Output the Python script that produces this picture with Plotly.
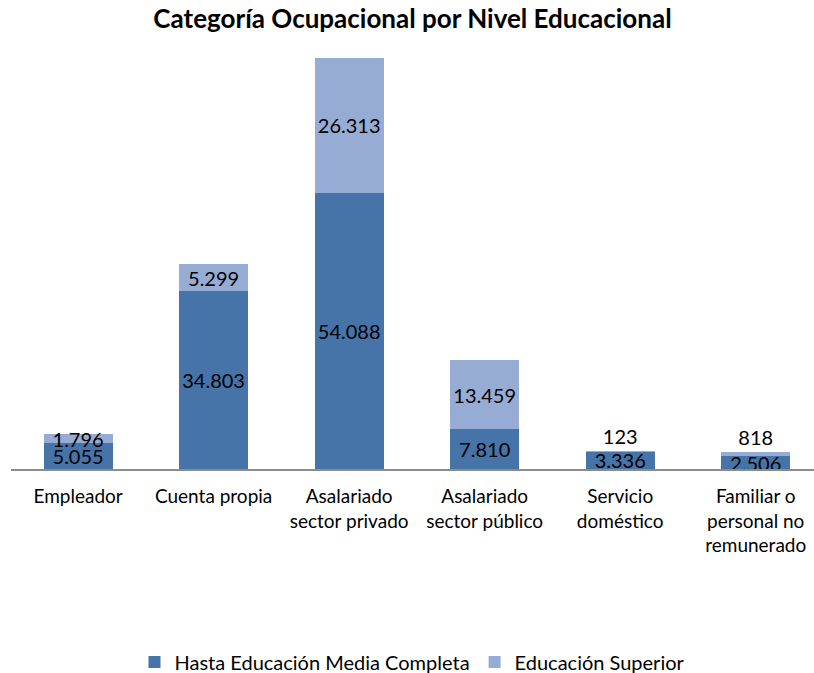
import plotly.graph_objects as go

categories = ["Empleador", "Cuenta propia", "Asalariado<br>sector privado",
              "Asalariado<br>sector público", "Servicio<br>doméstico",
              "Familiar o<br>personal no<br>remunerado"]
media_completa = [5055, 34803, 54088, 7810, 3336, 2506]
superior = [1796, 5299, 26313, 13459, 123, 818]

dark = "#4673A8"
light = "#96ACD4"
font_family = "Lato, 'Open Sans', sans-serif"

sup_pos = ["inside", "inside", "inside", "inside", "outside", "outside"]

fig = go.Figure()
fig.add_trace(go.Bar(
    x=categories, y=media_completa, name="Hasta Educación Media Completa",
    marker=dict(color=dark, line=dict(width=0)),
    texttemplate="%{y:,.0f}", textposition="inside", insidetextanchor="middle",
    constraintext="none", textfont=dict(size=20, color="black", family=font_family),
))
fig.add_trace(go.Bar(
    x=categories, y=superior, name="Educación Superior",
    marker=dict(color=light, line=dict(width=0)),
    texttemplate="%{y:,.0f}", textposition=sup_pos, insidetextanchor="middle",
    constraintext="none", cliponaxis=False,
    textfont=dict(size=20, color="black", family=font_family),
))

fig.update_layout(
    barmode="stack",
    bargap=0.49,
    width=814, height=673,
    separators=",.",
    plot_bgcolor="white", paper_bgcolor="white",
    font=dict(family=font_family, size=20, color="black"),
    title=dict(text="<b>Categoría Ocupacional por Nivel Educacional</b>",
               x=0.5, xanchor="center", xref="paper", y=0.972, yanchor="middle",
               font=dict(size=26, family=font_family, color="black")),
    margin=dict(l=11, r=0, t=9, b=204, autoexpand=False),
    xaxis=dict(range=[-0.495, 5.43], showline=True, linecolor="#8C8C8C", linewidth=2,
               ticks="", tickfont=dict(size=19, family=font_family), showgrid=False,
               ticklabelstandoff=9, automargin=False),
    yaxis=dict(range=[0, 90000], visible=False, showgrid=False, zeroline=False),
    legend=dict(orientation="h", x=0.5, xanchor="center",
                yref="container", y=0.0163, yanchor="middle",
                font=dict(size=20, family=font_family), itemwidth=30,
                traceorder="normal", borderwidth=0),
    showlegend=True,
)

fig.write_html("out.html", config={"displayModeBar": False},
               post_script="document.body.style.margin='0';")
